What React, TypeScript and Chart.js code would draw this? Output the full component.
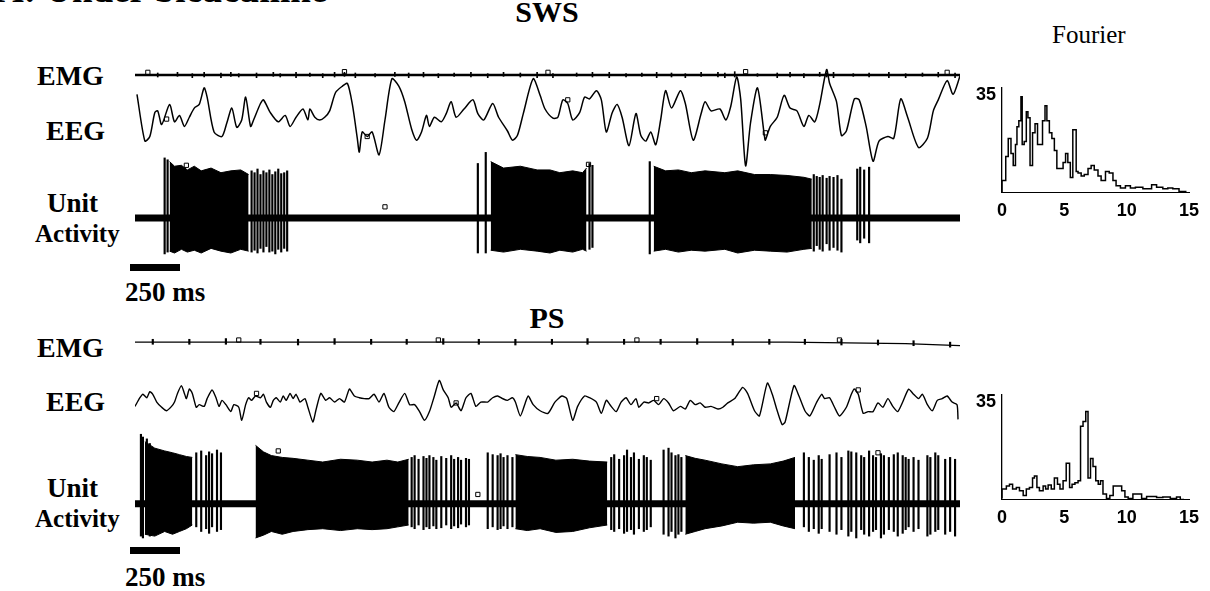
import React, { useEffect, useRef } from "react";
import { Chart, registerables } from "chart.js";

Chart.register(...registerables);

// ---------- shared axes ----------
const TIME_MAX_MS = 4175; // duration of each trace row
const SCALE_BAR_MS = 250;
const FOURIER_HZ_TICKS = [0, 5, 10, 15];
const FOURIER_MAX_HZ = 15;
const FOURIER_POWER_TICK = 35;

// ---------- SWS ----------
// EMG small deflections: [time ms, up, down]
const emgSwsTicks = [
  [115, 3, -3], [215, 4, -2], [290, 2, -4], [350, 4, -3], [435, 3, -4], [485, 4, -2], [525, 2, -3], [615, 3, -4],
  [700, 4, -2], [735, 2, -3], [815, 4, -4], [885, 3, -2], [950, 2, -4], [1010, 4, -3], [1060, 4, -2], [1115, 3, -4],
  [1215, 2, -3], [1315, 4, -2], [1385, 3, -4], [1460, 4, -3], [1535, 2, -4], [1615, 3, -2], [1700, 4, -3], [1785, 2, -4],
  [1865, 4, -2], [1950, 3, -3], [2035, 4, -4], [2115, 2, -4], [2235, 3, -2], [2315, 4, -3], [2400, 4, -4], [2485, 2, -3],
  [2565, 3, -2], [2640, 4, -4], [2715, 3, -3], [2785, 2, -4], [2865, 4, -2], [2950, 4, -3], [2985, 3, -4], [3035, 5, -3],
  [3150, 2, -2], [3250, 3, -4], [3315, 4, -3], [3385, 2, -4], [3465, 4, -2], [3500, 3, -3], [3535, 4, -4], [3635, 2, -2],
  [3715, 3, -3], [3815, 4, -4], [3900, 2, -4], [3985, 3, -2], [4065, 4, -3], [4150, 3, -4],
];
const emgSwsMarkers = [[65, 4], [1060, 5], [2090, 4], [3090, 5], [4110, 4]];

// EEG: [time ms, amplitude]
const eegSws = [
  [10, 33], [50, -18], [75, -13], [100, 13], [115, 15], [135, 0], [175, 22], [200, 3], [225, 10], [250, -2],
  [275, 8], [300, 18], [325, 22], [350, 40], [365, 30], [400, -8], [440, -13], [465, 2], [490, 18], [515, -3],
  [540, 5], [560, 30], [585, -2], [600, 5], [635, 23], [650, 27], [685, 13], [725, 3], [760, 10], [785, -2],
  [815, 8], [850, 17], [875, 5], [885, 17], [910, 8], [935, 5], [960, 8], [985, 15], [1015, 35], [1050, 42],
  [1075, 45], [1100, 22], [1125, -15], [1135, -30], [1150, -8], [1175, -13], [1200, -8], [1235, -33], [1265, 5], [1300, 50],
  [1335, 42], [1365, 25], [1400, -5], [1425, -17], [1450, -8], [1475, 10], [1490, -2], [1515, 8], [1550, 3], [1575, 12],
  [1600, 25], [1625, 8], [1665, 17], [1710, 27], [1735, 12], [1765, 5], [1810, 23], [1840, 8], [1885, -7], [1910, -17],
  [1935, -12], [1965, 12], [2015, 50], [2050, 32], [2075, 17], [2115, 7], [2140, 8], [2165, 27], [2190, 23], [2215, 5],
  [2250, 13], [2275, 30], [2300, 28], [2335, 37], [2360, 27], [2385, -8], [2415, 13], [2440, 22], [2465, 8], [2500, -23],
  [2535, 12], [2560, -12], [2585, -18], [2610, -8], [2635, -22], [2660, 5], [2685, 37], [2715, 18], [2760, 37], [2785, 23],
  [2825, -17], [2865, 12], [2885, 25], [2915, 15], [2960, 17], [2990, 5], [3015, 20], [3045, 52], [3065, 28], [3090, -45],
  [3115, 2], [3150, 40], [3185, -12], [3190, -17], [3215, -2], [3250, 8], [3285, 32], [3315, 18], [3350, 15], [3385, -2],
  [3410, 10], [3440, 3], [3465, 22], [3500, 60], [3515, 45], [3550, 25], [3575, -12], [3600, -7], [3640, 28], [3665, 27],
  [3700, -2], [3735, -40], [3765, -18], [3810, -13], [3840, -15], [3875, 28], [3910, 8], [3965, -25], [4010, -15], [4040, 15],
  [4065, 27], [4110, 48], [4140, 33], [4175, 53],
];
const eegSwsMarkers = [[160, 6], [1175, -13], [2190, 27], [3190, -9]];

// Unit activity: dense bursts as envelopes [time ms, top, bottom]
const unitSwsBursts = [
  [[175, 61, -36], [200, 56, -38], [235, 57, -34], [265, 52, -37], [300, 56, -35], [335, 51, -38], [385, 54, -33],
    [435, 49, -36], [485, 51, -38], [535, 52, -34], [575, 47, -36]],
  [[1800, 61, -35], [1865, 54, -37], [1950, 56, -34], [2035, 52, -36], [2100, 52, -38], [2150, 49, -35], [2215, 51, -37],
    [2265, 49, -34], [2285, 54, -36]],
  [[2625, 56, -36], [2685, 51, -34], [2750, 52, -37], [2815, 49, -35], [2885, 51, -36], [2985, 49, -34], [3050, 51, -38],
    [3135, 47, -35], [3215, 47, -36], [3300, 46, -37], [3385, 44, -34], [3425, 42, -33]],
];
// single spikes: [time ms, up, down]
const unitSwsSpikes = [
  [150, 65, -39], [165, 63, -37], [590, 51, -37], [605, 49, -35], [620, 53, -38], [635, 47, -33], [650, 51, -37],
  [665, 49, -31], [680, 52, -37], [695, 47, -36], [710, 50, -39], [725, 53, -34], [740, 48, -37], [755, 49, -33],
  [770, 51, -36], [1735, 59, -38], [1775, 71, -38], [2300, 59, -34], [2315, 57, -32], [2605, 61, -39],
  [3435, 47, -36], [3450, 45, -30], [3465, 44, -34], [3480, 46, -36], [3500, 43, -28], [3515, 45, -35], [3535, 44, -32],
  [3555, 46, -35], [3575, 42, -37], [3655, 53, -24], [3670, 55, -27], [3690, 52, -22], [3715, 55, -27],
];
const unitSwsMarkers = [[260, 57], [1265, 12], [2295, 58]];

// Fourier SWS: [Hz, power]
const fourierSws = [
  [0, 0], [0.3, 4], [0.5, 12], [0.72, 18], [0.9, 13], [1.08, 9], [1.2, 16], [1.35, 22], [1.52, 24], [1.62, 32],
  [1.78, 16], [1.95, 17], [2.08, 27], [2.25, 25], [2.45, 9], [2.65, 20], [2.85, 23], [3.05, 16], [3.25, 16], [3.45, 24],
  [3.6, 29], [3.8, 24], [4.0, 20], [4.2, 18], [4.4, 14], [4.6, 8], [4.9, 8], [5.1, 10], [5.28, 13], [5.48, 10],
  [5.68, 5], [5.95, 21], [6.1, 7], [6.35, 6.5], [6.6, 5.5], [6.9, 6], [7.15, 8], [7.4, 9], [7.7, 7.5], [7.95, 5.5],
  [8.3, 4], [8.6, 7], [8.9, 6.5], [9.15, 4], [9.5, 2.2], [9.9, 1.5], [10.3, 2.2], [10.7, 1.5], [11.3, 1.7], [12.0, 1.2],
  [12.4, 2.6], [12.9, 1.7], [13.3, 1.2], [13.7, 1.5], [14.2, 1.2], [14.5, 0.3], [14.8, 0.3],
];

// ---------- PS ----------
const emgPsBase = [[0, 0], [3300, 0], [3600, -1], [3900, -2], [4175, -5]];
const emgPsTicks = [
  [90, 4, -3], [275, 4, -3], [460, 5, -3], [635, 4, -3], [825, 4, -4], [1010, 5, -3], [1195, 4, -3], [1375, 4, -3],
  [1560, 5, -3], [1740, 4, -3], [1925, 4, -4], [2110, 4, -3], [2290, 5, -3], [2475, 4, -3], [2660, 4, -3], [2845, 5, -3],
  [3025, 4, -4], [3210, 4, -3], [3390, 4, -3], [3575, 4, -4], [3760, 3, -4], [3940, 2, -5], [4125, 0, -7],
];
const emgPsMarkers = [[525, 3], [1535, 3], [2540, 3], [3565, 3]];

const eegPs = [
  [0, -7], [25, 3], [40, 7], [60, 3], [75, 10], [90, 7], [110, -2], [135, -8], [160, -12], [185, -7],
  [200, -2], [215, 8], [235, 17], [250, 8], [260, 2], [275, 13], [290, 8], [310, -8], [325, -5], [350, -7],
  [365, 2], [390, 12], [410, 3], [425, -7], [440, 0], [460, -5], [485, -13], [500, -5], [525, -8], [540, -23],
  [560, -5], [575, 3], [590, 0], [610, 5], [635, 3], [650, 7], [665, -2], [685, -8], [700, 0], [715, 3],
  [735, -2], [750, 5], [765, 0], [785, 8], [800, 2], [815, 7], [835, -2], [860, 2], [875, -8], [900, -25],
  [915, -12], [940, 8], [965, 0], [985, 3], [1010, -2], [1035, 2], [1060, -2], [1085, 13], [1110, 5], [1135, 3],
  [1160, 2], [1185, 2], [1210, 7], [1235, -2], [1260, 8], [1285, -8], [1310, -13], [1335, -3], [1365, 8], [1390, -5],
  [1415, -5], [1440, -13], [1465, -23], [1490, -13], [1515, 5], [1540, 23], [1560, 12], [1585, 3], [1600, -8], [1625, -3],
  [1650, -12], [1675, 3], [1700, 8], [1725, -7], [1750, -2], [1785, -2], [1810, 3], [1835, 5], [1860, 2], [1885, 0],
  [1910, 3], [1925, -2], [1950, -18], [1975, -3], [1990, 5], [2015, -5], [2050, -12], [2090, -15], [2125, -2], [2160, 5],
  [2185, 2], [2215, -23], [2240, -7], [2275, 5], [2300, 3], [2335, -2], [2360, -15], [2385, 0], [2410, -7], [2435, -13],
  [2460, -2], [2485, 3], [2510, -5], [2535, 2], [2550, -8], [2575, -2], [2600, -3], [2625, 0], [2650, -5], [2675, 2],
  [2700, -3], [2725, -12], [2760, -7], [2785, -10], [2810, 0], [2835, -5], [2860, -3], [2885, -8], [2915, -7], [2950, -10],
  [2975, -8], [3000, -3], [3035, 2], [3075, 15], [3100, 8], [3135, -12], [3160, -18], [3200, 20], [3225, 7], [3250, -12],
  [3275, -28], [3290, -25], [3335, 17], [3360, 5], [3390, -12], [3415, -18], [3450, -2], [3475, 7], [3490, 2], [3515, 3],
  [3540, -8], [3565, -18], [3600, -8], [3625, 7], [3640, 13], [3660, 7], [3685, -15], [3710, -13], [3735, -13], [3760, -3],
  [3785, -8], [3810, 2], [3835, -7], [3860, -13], [3885, -2], [3915, 13], [3940, 7], [3965, 2], [3985, 7], [4010, -5],
  [4035, -12], [4060, 0], [4085, 2], [4110, 5], [4135, -2], [4160, -5], [4165, -22],
];
const eegPsMarkers = [[615, 8], [1625, -3], [2640, 2], [3660, 12]];

const unitPsBursts = [
  [[50, 67, -33], [100, 60, -35], [150, 57, -30], [190, 55, -33], [225, 53, -30], [260, 51, -27], [290, 50, -23]],
  [[610, 63, -37], [650, 56, -34], [690, 52, -30], [745, 50, -33], [800, 49, -30], [875, 47, -28], [950, 45, -27],
    [1040, 48, -29], [1125, 47, -27], [1200, 45, -28], [1275, 47, -27], [1330, 45, -25], [1385, 48, -23]],
  [[1925, 53, -27], [1985, 51, -29], [2050, 50, -27], [2130, 47, -31], [2215, 48, -30], [2300, 46, -26], [2390, 45, -23]],
  [[2785, 52, -33], [2835, 49, -30], [2885, 47, -27], [2970, 43, -24], [3050, 40, -20], [3130, 42, -21], [3215, 43, -20],
    [3280, 46, -24], [3340, 50, -27]],
];
const unitPsSpikes = [
  [30, 75, -35], [40, 72, -37], [60, 70, -33], [75, 65, -35],
  [310, 55, -25], [335, 57, -30], [360, 52, -27], [375, 56, -32], [390, 54, -25], [415, 58, -30], [435, 55, -28],
  [1400, 50, -25], [1415, 52, -27], [1435, 48, -23], [1460, 51, -28], [1475, 49, -25], [1490, 52, -27], [1510, 50, -24],
  [1525, 47, -27], [1550, 51, -26], [1575, 49, -23], [1600, 52, -27], [1615, 48, -24], [1635, 50, -26], [1650, 47, -22],
  [1675, 49, -25], [1690, 48, -23],
  [1785, 55, -27], [1810, 53, -25], [1835, 52, -28], [1850, 54, -27], [1865, 50, -24], [1885, 52, -27], [1910, 50, -25],
  [2410, 50, -28], [2425, 53, -30], [2450, 48, -27], [2475, 52, -32], [2490, 58, -30], [2510, 50, -28], [2525, 55, -33],
  [2550, 48, -27], [2575, 52, -30], [2590, 50, -28], [2610, 47, -25],
  [2675, 58, -33], [2700, 60, -35], [2715, 55, -30], [2735, 52, -37], [2750, 53, -33], [2765, 50, -30],
  [3385, 55, -25], [3410, 50, -30], [3435, 47, -27], [3460, 52, -32], [3475, 48, -27], [3515, 53, -30], [3550, 55, -33],
  [3575, 50, -28], [3610, 57, -35], [3625, 56, -30], [3650, 55, -37], [3675, 52, -28], [3690, 50, -33], [3715, 57, -35],
  [3735, 52, -30], [3750, 50, -28], [3775, 54, -37], [3790, 52, -33], [3815, 50, -28], [3840, 53, -30], [3860, 55, -35],
  [3885, 52, -32], [3900, 50, -28], [3915, 48, -25], [3940, 50, -30], [3965, 47, -27], [4010, 52, -35], [4025, 50, -33],
  [4050, 55, -30], [4065, 52, -28], [4100, 48, -33], [4125, 50, -30], [4150, 48, -35],
];
const unitPsMarkers = [[725, 57], [1735, 10], [3760, 55]];

const fourierPs = [
  [0, 0.3], [0.35, 3.5], [0.6, 4.5], [0.85, 5.1], [1.15, 3.5], [1.4, 4], [1.7, 2.9], [1.95, 1.3], [2.2, 3.5], [2.45, 4],
  [2.6, 7.2], [2.8, 7.8], [3.0, 4], [3.3, 2.9], [3.5, 4.5], [3.7, 3.5], [3.95, 4.8], [4.2, 3.5], [4.45, 7.2], [4.65, 5.1],
  [4.9, 3.5], [5.15, 6.2], [5.42, 12.1], [5.62, 4], [5.85, 5.1], [6.1, 5.6], [6.3, 6.2], [6.5, 24.5], [6.72, 26.1], [6.9, 29.4],
  [7.1, 7.2], [7.3, 13.7], [7.52, 11], [7.72, 6.2], [7.9, 5.1], [8.1, 6.2], [8.38, 1.8], [8.65, 0.3], [8.92, 1.3], [9.6, 4.5],
  [9.86, 2.9], [10.12, 0.8], [10.5, 0.3], [11.2, 1.8], [11.6, 0.3], [12.4, 1], [12.9, 0.6], [13.5, 0.8], [14.0, 0.3], [14.3, 0.8],
  [14.6, 0],
];

// ---------- chart builders ----------
const BLACK = "#000";
const SERIF = "'Liberation Serif', 'Times New Roman', serif";
const SANS = "'Liberation Sans', Arial, sans-serif";

const toXY = (pts: number[][]) => pts.map(([x, y]) => ({ x, y }));

function lineDs(pts: number[][], width: number, tension = 0) {
  return { type: "line", data: toXY(pts), borderColor: BLACK, borderWidth: width, pointRadius: 0, tension, fill: false };
}
function spikeDs(spikes: number[][], thickness: number) {
  return {
    type: "bar",
    data: spikes.map(([t, up, dn]) => ({ x: t, y: [dn, up] })),
    backgroundColor: BLACK,
    borderWidth: 0,
    barThickness: thickness,
    grouped: false,
  };
}
function markerDs(pts: number[][]) {
  return {
    type: "line",
    showLine: false,
    data: toXY(pts),
    pointStyle: "rect",
    pointRadius: 3,
    pointBackgroundColor: "#fff",
    pointBorderColor: BLACK,
    pointBorderWidth: 1,
  };
}
function burstDs(bursts: number[][][]) {
  const out: any[] = [];
  bursts.forEach((b) => {
    out.push({
      type: "line",
      data: b.map(([t, up]) => ({ x: t, y: up })),
      borderColor: BLACK, borderWidth: 1, pointRadius: 0, tension: 0,
      fill: "+1", backgroundColor: BLACK,
    });
    out.push({
      type: "line",
      data: b.map(([t, , dn]) => ({ x: t, y: dn })),
      borderColor: BLACK, borderWidth: 1, pointRadius: 0, tension: 0, fill: false,
    });
  });
  return out;
}
const baseline = (width: number) => lineDs([[0, 0], [TIME_MAX_MS, 0]], width);

function traceConfig(datasets: any[], yMin: number, yMax: number) {
  return {
    type: "line",
    data: { datasets },
    options: {
      responsive: false,
      animation: false,
      events: [],
      devicePixelRatio: 1,
      layout: { padding: 0 },
      plugins: { legend: { display: false }, tooltip: { enabled: false } },
      scales: {
        x: { type: "linear", min: 0, max: TIME_MAX_MS, display: false, offset: false },
        y: { type: "linear", min: yMin, max: yMax, display: false },
      },
    },
  };
}

function fourierConfig(pairs: number[][]) {
  const tickFont = { family: SANS, weight: "bold", size: 18 };
  return {
    type: "line",
    data: {
      datasets: [{
        data: toXY(pairs), stepped: "after", borderColor: BLACK, borderWidth: 1.5, pointRadius: 0, fill: false,
      }],
    },
    options: {
      responsive: false,
      animation: false,
      events: [],
      devicePixelRatio: 1,
      layout: { padding: { top: 0, right: 21, bottom: 0, left: 0 } },
      plugins: { legend: { display: false }, tooltip: { enabled: false } },
      scales: {
        x: {
          type: "linear", min: 0, max: FOURIER_MAX_HZ, offset: false,
          afterBuildTicks: (s: any) => { s.ticks = FOURIER_HZ_TICKS.map((v) => ({ value: v })); },
          ticks: { font: tickFont, color: BLACK, padding: 8, maxRotation: 0, autoSkip: false },
          grid: { display: false, drawTicks: false },
          border: { display: true, color: BLACK, width: 1 },
        },
        y: {
          type: "linear", min: 0, max: FOURIER_POWER_TICK,
          afterBuildTicks: (s: any) => { s.ticks = [{ value: FOURIER_POWER_TICK }]; },
          afterFit: (s: any) => { s.width = 37; },
          ticks: { font: tickFont, color: BLACK, padding: 6, labelOffset: 7 },
          grid: { display: false, drawTicks: false },
          border: { display: true, color: BLACK, width: 1.3 },
        },
      },
    },
  };
}

function ChartCanvas({ left, top, width, height, config }: { left: number; top: number; width: number; height: number; config: () => any }) {
  const ref = useRef<HTMLCanvasElement>(null);
  useEffect(() => {
    const chart = new Chart(ref.current as HTMLCanvasElement, config() as any);
    return () => chart.destroy();
  }, []);
  return (
    <canvas
      ref={ref}
      width={width}
      height={height}
      style={{ position: "absolute", left, top, width, height }}
    />
  );
}

function Txt({ text, left, baseline: base, size, bold = true, center = false }: { text: string; left: number; baseline: number; size: number; bold?: boolean; center?: boolean }) {
  const top = base - 0.8375 * size;
  return (
    <div
      style={{
        position: "absolute",
        left: center ? left - 200 : left,
        width: center ? 400 : undefined,
        textAlign: center ? "center" : "left",
        top,
        fontFamily: SERIF,
        fontSize: size,
        lineHeight: `${size}px`,
        fontWeight: bold ? 700 : 400,
        whiteSpace: "nowrap",
        color: BLACK,
      }}
    >
      {text}
    </div>
  );
}

const TRACE_LEFT = 130;
const TRACE_WIDTH = 835;
const scaleBarPx = (SCALE_BAR_MS / TIME_MAX_MS) * TRACE_WIDTH;

export default function App() {
  return (
    <div style={{ position: "absolute", left: 0, top: 0, width: 1210, height: 591, background: "#fff", overflow: "hidden" }}>
      <Txt text="A: Under bicuculline" left={-3} baseline={2} size={37} />
      <Txt text="SWS" left={547} baseline={22} size={30} center />
      <Txt text="Fourier" left={1052} baseline={43} size={25} bold={false} />

      <Txt text="EMG" left={37} baseline={85} size={28} />
      <Txt text="EEG" left={46} baseline={140} size={28} />
      <Txt text="Unit" left={47} baseline={213} size={27} />
      <Txt text="Activity" left={35} baseline={242} size={25} />
      <Txt text="250 ms" left={125} baseline={302} size={27} />

      <Txt text="PS" left={547} baseline={328} size={30} center />
      <Txt text="EMG" left={37} baseline={357} size={28} />
      <Txt text="EEG" left={46} baseline={411} size={28} />
      <Txt text="Unit" left={47} baseline={498} size={27} />
      <Txt text="Activity" left={35} baseline={527} size={25} />
      <Txt text="250 ms" left={125} baseline={587} size={27} />

      <div style={{ position: "absolute", left: TRACE_LEFT, top: 264, width: scaleBarPx, height: 7, background: BLACK }} />
      <div style={{ position: "absolute", left: TRACE_LEFT, top: 547, width: scaleBarPx, height: 7, background: BLACK }} />

      {/* SWS traces */}
      <ChartCanvas left={TRACE_LEFT} top={60} width={TRACE_WIDTH} height={30}
        config={() => traceConfig([baseline(2.5), spikeDs(emgSwsTicks, 1), markerDs(emgSwsMarkers)], -15, 15)} />
      <ChartCanvas left={TRACE_LEFT} top={60} width={TRACE_WIDTH} height={120}
        config={() => traceConfig([lineDs(eegSws, 1.5, 0.25), markerDs(eegSwsMarkers)], -55, 65)} />
      <ChartCanvas left={TRACE_LEFT} top={140} width={TRACE_WIDTH} height={130}
        config={() => traceConfig([baseline(7), ...burstDs(unitSwsBursts), spikeDs(unitSwsSpikes, 1.5), markerDs(unitSwsMarkers)], -51, 79)} />

      {/* PS traces */}
      <ChartCanvas left={TRACE_LEFT} top={325} width={TRACE_WIDTH} height={35}
        config={() => traceConfig([lineDs(emgPsBase, 1.3), spikeDs(emgPsTicks, 1.5), markerDs(emgPsMarkers)], -18, 17)} />
      <ChartCanvas left={TRACE_LEFT} top={365} width={TRACE_WIDTH} height={75}
        config={() => traceConfig([lineDs(eegPs, 1.4, 0.2), markerDs(eegPsMarkers)], -40, 35)} />
      <ChartCanvas left={TRACE_LEFT} top={420} width={TRACE_WIDTH} height={135}
        config={() => traceConfig([baseline(7), ...burstDs(unitPsBursts), spikeDs(unitPsSpikes, 1.5), markerDs(unitPsMarkers)], -50, 85)} />

      {/* Fourier spectra */}
      <ChartCanvas left={965} top={71} width={245} height={159} config={() => fourierConfig(fourierSws)} />
      <ChartCanvas left={965} top={378} width={245} height={159} config={() => fourierConfig(fourierPs)} />
    </div>
  );
}
